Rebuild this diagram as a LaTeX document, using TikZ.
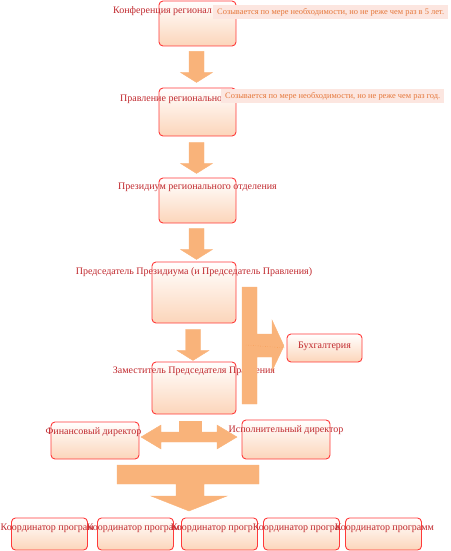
\documentclass[tikz,border=0pt]{standalone}
\usepackage{fontspec}
\setmainfont{Liberation Serif}
\usetikzlibrary{calc,positioning}
\definecolor{boxline}{HTML}{FF3A3A}
\definecolor{boxfill}{HTML}{FCD5BA}
\definecolor{textred}{HTML}{C0282D}
\definecolor{notetext}{HTML}{E5773A}
\definecolor{notefill}{HTML}{FCE6E0}
\definecolor{arrlight}{HTML}{F9B37A}
\definecolor{arrdark}{HTML}{F58E3E}
\tikzset{
  orgbox/.style={draw=boxline, line width=0.9pt, rounded corners=4pt,
    top color=white, bottom color=boxfill, minimum width=77pt,
    minimum height=45pt, inner sep=0pt},
  orgtext/.style={text=textred, font=\fontsize{10}{12}\selectfont, inner sep=0pt},
  notetag/.style={fill=notefill, text=notetext, font=\fontsize{8.4}{10}\selectfont,
    inner xsep=4pt, inner ysep=3pt},
  blockarr/.style={draw=arrlight, line width=0.4pt, top color=arrlight,
    middle color=arrdark, bottom color=arrlight},
  downarr/.pic={\path[blockarr] (-7.5,0) -- (7.5,0) -- (7.5,21) -- (16,21)
    -- (0,31) -- (-16,21) -- (-7.5,21) -- cycle;}
}
\begin{document}
\begin{tikzpicture}[x=1pt, y=-1pt]
  \useasboundingbox (0,0) rectangle (450,551);
  \node[orgbox] (conf) at (197.5,23.5) {};
  \node[orgbox, minimum height=48pt] (prav) at (197.5,112) {};
  \node[orgbox] (prez) at (197.5,200.5) {};
  \node[orgbox, minimum width=84pt, minimum height=61pt] (pred) at (194,292.5) {};
  \node[orgbox, minimum width=84pt, minimum height=52pt] (zam) at (194,388) {};
  \node[orgbox, minimum width=75pt, minimum height=28pt] (buh) at (324.5,348) {};
  \node[orgbox, minimum width=88pt, minimum height=37pt] (fin) at (95,440.5) {};
  \node[orgbox, minimum width=88pt, minimum height=39pt] (isp) at (286,439.5) {};
  \foreach \i/\cx in {1/49.5,2/135.5,3/219.5,4/301.5,5/383.5}
    \node[orgbox, minimum width=76pt, minimum height=32pt] (coord\i) at (\cx,534) {};

  \node[orgtext, anchor=west] (conf-t) at (113,11) {Конференция регионал};
  \node[orgtext, anchor=west] (prav-t) at (120,99) {Правление регионального};
  \node[orgtext] (prez-t) at ($(prez.north)+(0,10)$) {Президиум регионального отделения};
  \node[orgtext] (pred-t) at ($(pred.north)+(0,10.5)$) {Председатель Президиума (и Председатель Правления)};
  \node[orgtext] (zam-t) at ($(zam.north)+(0,10)$) {Заместитель Председателя Правления};
  \node[orgtext] (buh-t) at ($(buh.center)+(0,-1.5)$) {Бухгалтерия};
  \node[orgtext] (fin-t) at ($(fin.north)+(-1.5,11)$) {Финансовый директор};
  \node[orgtext] (isp-t) at ($(isp.north)+(0,11)$) {Исполнительный директор};
  \foreach \i/\t in {1/Координатор програм,2/Координатор програм,3/Координатор прогр,
      4/Координатор програ,5/Координатор программ}
    \node[orgtext, anchor=west] (coord\i-t) at ($(coord\i.north west)+(-10.5,11)$) {\t};

  \node[notetag, anchor=west] (note1) at (213,12) {Созывается по мере необходимости, но не реже чем раз в 5 лет.};
  \node[notetag, anchor=west] (note2) at (221,96) {Созывается по мере необходимости, но не реже чем раз год.};

  \pic at ($(conf.south)+(-1,5)$) {downarr};
  \pic at ($(prav.south)+(-1,6)$) {downarr};
  \pic at ($(prez.south)+(-1,5)$) {downarr};
  \pic at ($(pred.south)+(-1,6)$) {downarr};

  \path[blockarr] (242,287) -- (257,287) -- (257,334) -- (272,334) -- (272,320)
    -- (284,346) -- (272,371) -- (272,357) -- (257,357) -- (257,404)
    -- (242,404) -- cycle;
  \draw[arrdark, dotted] (246,345) -- (buh.west);

  \path[blockarr] (179,421) rectangle (201,432);
  \path[blockarr] (141,437) -- (161,425) -- (161,432) -- (217,432) -- (217,425)
    -- (237,437) -- (217,449) -- (217,442) -- (161,442) -- (161,449) -- cycle;

  \path[blockarr] (117,465) -- (259,465) -- (259,484) -- (204,484) -- (204,496)
    -- (227,496) -- (189,511) -- (151,496) -- (176,496) -- (176,484)
    -- (117,484) -- cycle;
\end{tikzpicture}
\end{document}
